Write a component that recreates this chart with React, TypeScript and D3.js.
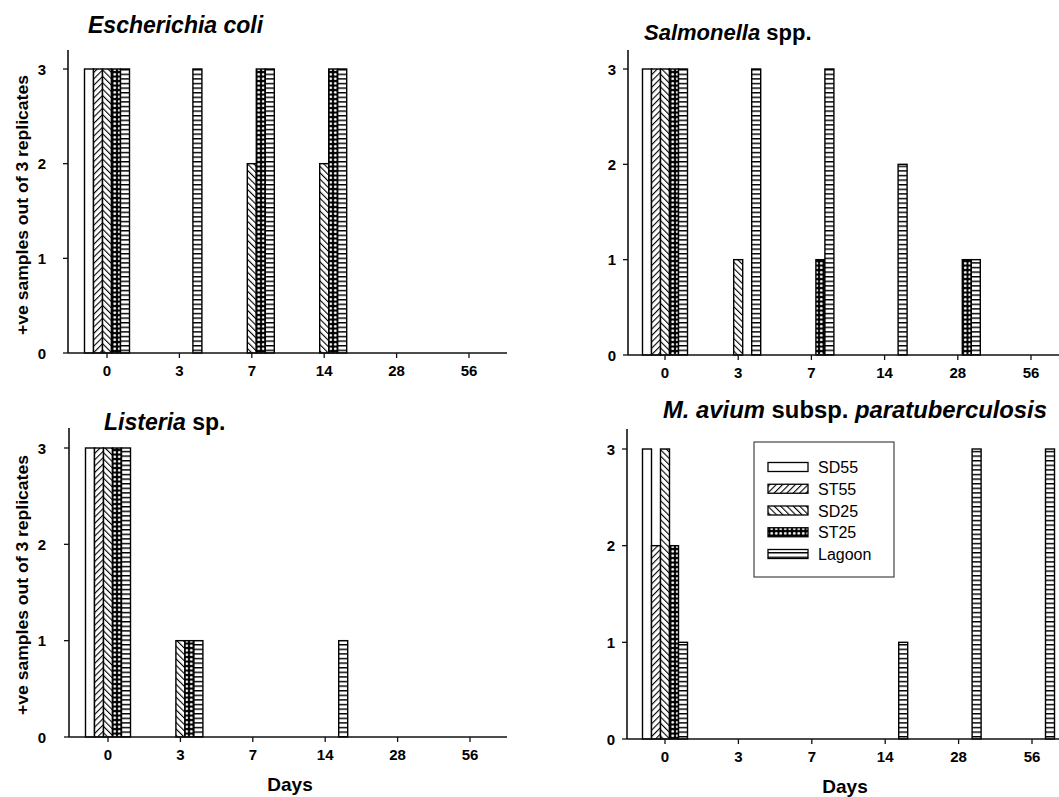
import React from 'react';
import * as d3 from 'd3';

// Sampling days (categorical x axis)
const days = ["0", "3", "7", "14", "28", "56"];
const treatments = ["SD55", "ST55", "SD25", "ST25", "Lagoon"];
const yTicks = [0, 1, 2, 3];

// +ve samples out of 3, one array per treatment, in the order of `days`
const ecoliSD55 = [3, 0, 0, 0, 0, 0];
const ecoliST55 = [3, 0, 0, 0, 0, 0];
const ecoliSD25 = [3, 0, 2, 2, 0, 0];
const ecoliST25 = [3, 0, 3, 3, 0, 0];
const ecoliLagoon = [3, 3, 3, 3, 0, 0];

const salmSD55 = [3, 0, 0, 0, 0, 0];
const salmST55 = [3, 0, 0, 0, 0, 0];
const salmSD25 = [3, 1, 0, 0, 0, 0];
const salmST25 = [3, 0, 1, 0, 1, 0];
const salmLagoon = [3, 3, 3, 2, 1, 0];

const listSD55 = [3, 0, 0, 0, 0, 0];
const listST55 = [3, 0, 0, 0, 0, 0];
const listSD25 = [3, 1, 0, 0, 0, 0];
const listST25 = [3, 1, 0, 0, 0, 0];
const listLagoon = [3, 1, 0, 1, 0, 0];

const mapSD55 = [3, 0, 0, 0, 0, 0];
const mapST55 = [2, 0, 0, 0, 0, 0];
const mapSD25 = [3, 0, 0, 0, 0, 0];
const mapST25 = [2, 0, 0, 0, 0, 0];
const mapLagoon = [1, 0, 0, 1, 3, 3];

const FONT = "'Liberation Sans', Arial, Helvetica, sans-serif";
const BAR_W = 9;

const fills: Record<string, string> = {
  SD55: "#fff",
  ST55: "url(#hatchFwd)",
  SD25: "url(#hatchBack)",
  ST25: "url(#dots)",
  Lagoon: "url(#horiz)",
};

// panel frames (pixel layout of the scanned figure)
const panels = [
  { key: "ecoli", series: [ecoliSD55, ecoliST55, ecoliSD25, ecoliST25, ecoliLagoon],
    axisX: 68, endX: 507, firstTick: 107, lastTick: 469, base: 353, y3: 69, top: 50, labelX: 46, days: false },
  { key: "salm", series: [salmSD55, salmST55, salmSD25, salmST25, salmLagoon],
    axisX: 628, endX: 1059, firstTick: 665, lastTick: 1031, base: 355, y3: 69, top: 50, labelX: 616, days: false },
  { key: "list", series: [listSD55, listST55, listSD25, listST25, listLagoon],
    axisX: 69, endX: 507, firstTick: 108, lastTick: 470, base: 737, y3: 448, top: 428, labelX: 46, days: true },
  { key: "map", series: [mapSD55, mapST55, mapSD25, mapST25, mapLagoon],
    axisX: 627, endX: 1059, firstTick: 665, lastTick: 1032, base: 739, y3: 449, top: 429, labelX: 615, days: true },
];

function Panel({ p }: { p: typeof panels[number] }) {
  const x = d3.scalePoint<string>().domain(days).range([p.firstTick, p.lastTick]);
  const y = d3.scaleLinear().domain([0, 3]).range([p.base, p.y3]);
  const offset = d3.scaleBand<string>().domain(treatments)
    .range([-2.5 * BAR_W, 2.5 * BAR_W]);

  return (
    <g>
      {p.series.map((vals, si) =>
        vals.map((v, di) => v > 0 ? (
          <rect key={`${si}-${di}`}
            x={x(days[di])! + offset(treatments[si])!}
            y={y(v)}
            width={BAR_W}
            height={y(0) - y(v)}
            fill={fills[treatments[si]]}
            stroke="#000" strokeWidth={1.4} />
        ) : null)
      )}
      {/* axes */}
      <line x1={p.axisX} x2={p.axisX} y1={p.top} y2={p.base} stroke="#111" strokeWidth={1.6} />
      <line x1={p.axisX} x2={p.endX} y1={p.base} y2={p.base} stroke="#111" strokeWidth={1.6} />
      {yTicks.map(t => (
        <g key={t}>
          <line x1={p.axisX - 5} x2={p.axisX} y1={y(t)} y2={y(t)} stroke="#111" strokeWidth={1.3} />
          <text x={p.labelX} y={y(t) + 5.5} textAnchor="end" fontSize={15} fontWeight="bold" fontFamily={FONT}>{t}</text>
        </g>
      ))}
      {days.map(d => (
        <g key={d}>
          <line x1={x(d)} x2={x(d)} y1={p.base} y2={p.base + 5} stroke="#111" strokeWidth={1.3} />
          <text x={x(d)} y={p.base + 23} textAnchor="middle" fontSize={15} fontWeight="bold" fontFamily={FONT}>{d}</text>
        </g>
      ))}
      {p.days && (
        <text x={(p.axisX + p.endX) / 2 + 2} y={p.base + 54} textAnchor="middle" fontSize={19} fontWeight="bold" fontFamily={FONT}>Days</text>
      )}
    </g>
  );
}

function Legend() {
  const rowY = d3.scalePoint<string>().domain(treatments).range([467, 554]);
  return (
    <g>
      <rect x={754} y={442} width={140} height={135} fill="#fff" stroke="#444" strokeWidth={1.2} />
      {treatments.map(t => (
        <g key={t}>
          <rect x={768} y={rowY(t)! - 4.5} width={40} height={9} fill={fills[t]} stroke="#000" strokeWidth={1.3} />
          <text x={818} y={rowY(t)! + 6} fontSize={16} fontFamily={FONT}>{t}</text>
        </g>
      ))}
    </g>
  );
}

export default function App() {
  const yTitle = "+ve samples out of 3 replicates";
  return (
    <div style={{ position: "absolute", left: 0, top: 0 }}>
      <svg width={1059} height={797} style={{ display: "block", background: "#fff" }}>
        <defs>
          <pattern id="hatchFwd" width={4.5} height={4.5} patternUnits="userSpaceOnUse" patternTransform="rotate(45)">
            <rect width={4.5} height={4.5} fill="#fff" />
            <line x1={0} y1={0} x2={0} y2={4.5} stroke="#000" strokeWidth={2.2} />
          </pattern>
          <pattern id="hatchBack" width={4.5} height={4.5} patternUnits="userSpaceOnUse" patternTransform="rotate(-45)">
            <rect width={4.5} height={4.5} fill="#fff" />
            <line x1={0} y1={0} x2={0} y2={4.5} stroke="#000" strokeWidth={2.2} />
          </pattern>
          <pattern id="dots" width={4.5} height={4.5} patternUnits="userSpaceOnUse">
            <rect width={4.5} height={4.5} fill="#000" />
            <circle cx={2.25} cy={2.25} r={1.4} fill="#fff" />
          </pattern>
          <pattern id="horiz" width={9} height={4.6} patternUnits="userSpaceOnUse">
            <rect width={9} height={4.6} fill="#fff" />
            <line x1={0} x2={9} y1={0.7} y2={0.7} stroke="#000" strokeWidth={1.5} />
          </pattern>
        </defs>

        {panels.map(p => <Panel key={p.key} p={p} />)}
        <Legend />

        {/* panel titles */}
        <text x={88} y={33} fontSize={23} fontWeight="bold" fontStyle="italic" fontFamily={FONT}>Escherichia coli</text>
        <text x={644} y={40} fontSize={22} fontWeight="bold" fontFamily={FONT}>
          <tspan fontStyle="italic">Salmonella</tspan> spp.
        </text>
        <text x={104} y={430} fontSize={23} fontWeight="bold" fontFamily={FONT}>
          <tspan fontStyle="italic">Listeria</tspan> sp.
        </text>
        <text x={663} y={418} fontSize={23} fontWeight="bold" fontFamily={FONT}
          textLength={384} lengthAdjust="spacingAndGlyphs">
          <tspan fontStyle="italic">M. avium</tspan> subsp. <tspan fontStyle="italic">paratuberculosis</tspan>
        </text>

        {/* y axis titles */}
        <text transform="translate(28,205) rotate(-90)" textAnchor="middle" fontSize={16} fontWeight="bold" fontFamily={FONT}
          textLength={260} lengthAdjust="spacingAndGlyphs">{yTitle}</text>
        <text transform="translate(28,585) rotate(-90)" textAnchor="middle" fontSize={16} fontWeight="bold" fontFamily={FONT}
          textLength={260} lengthAdjust="spacingAndGlyphs">{yTitle}</text>
      </svg>
    </div>
  );
}
